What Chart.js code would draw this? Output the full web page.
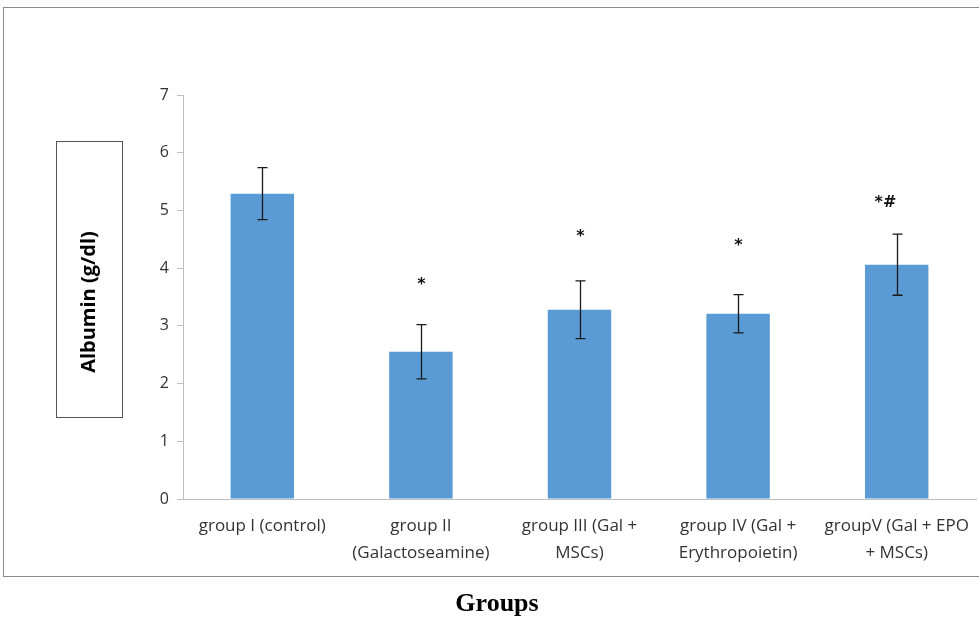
<!DOCTYPE html>
<html><head><meta charset="utf-8">
<script src="https://cdn.jsdelivr.net/npm/chart.js@4/dist/chart.umd.min.js"></script>
<style>html,body{margin:0;padding:0;background:#fff;}#wrap{width:979px;height:620px;position:relative;}</style>
</head><body><div id="wrap"><canvas id="c" width="979" height="620"></canvas></div>
<script>
const categories = [
  ["group I (control)"],
  ["group II", "(Galactoseamine)"],
  ["group III (Gal +", "MSCs)"],
  ["group IV (Gal +", "Erythropoietin)"],
  ["groupV (Gal + EPO", "+ MSCs)"]
];
const albumin = [5.29, 2.55, 3.28, 3.21, 4.06];
const errors = [0.45, 0.47, 0.50, 0.33, 0.53];
const significance = ["", "*", "*", "*", "*#"];
const significanceLevel = [null, 3.71, 4.54, 4.38, 5.13];
const yTicks = [0, 1, 2, 3, 4, 5, 6, 7];

const extras = {
  id: 'extras',
  beforeDraw(chart) {
    const ctx = chart.ctx;
    ctx.save();
    ctx.fillStyle = '#fff';
    ctx.fillRect(0, 0, chart.width, chart.height);
    ctx.strokeStyle = '#8c8c8c';
    ctx.lineWidth = 1;
    ctx.strokeRect(3.5, 7.5, 990, 569);
    ctx.restore();
  },
  afterDatasetsDraw(chart) {
    const ctx = chart.ctx;
    const meta = chart.getDatasetMeta(0);
    const y = chart.scales.y;
    ctx.save();
    ctx.strokeStyle = '#1a1a1a';
    ctx.lineWidth = 1.3;
    meta.data.forEach((bar, i) => {
      const x = Math.round(bar.x) + 0.5;
      const top = y.getPixelForValue(albumin[i] + errors[i]);
      const bot = y.getPixelForValue(albumin[i] - errors[i]);
      ctx.beginPath();
      ctx.moveTo(x, top); ctx.lineTo(x, bot);
      ctx.moveTo(x - 5, top); ctx.lineTo(x + 5, top);
      ctx.moveTo(x - 5, bot); ctx.lineTo(x + 5, bot);
      ctx.stroke();
      if (significance[i]) {
        ctx.fillStyle = '#111';
        ctx.font = 'bold 16px "DejaVu Sans"';
        ctx.textAlign = 'center';
        ctx.textBaseline = 'middle';
        ctx.fillText(significance[i], x - (significance[i].length > 1 ? 12 : 0), y.getPixelForValue(significanceLevel[i]));
      }
    });
    // y-axis title box
    ctx.strokeStyle = '#555';
    ctx.lineWidth = 1;
    ctx.strokeRect(56.5, 141.5, 66, 276);
    ctx.translate(89, 302);
    ctx.rotate(-Math.PI / 2);
    ctx.fillStyle = '#000';
    ctx.font = 'bold 20px "Open Sans"';
    ctx.textAlign = 'center';
    ctx.textBaseline = 'middle';
    ctx.fillText('Albumin (g/dl)', 0, 0);
    ctx.restore();
    // x title
    ctx.save();
    ctx.fillStyle = '#000';
    ctx.font = 'bold 26px "Liberation Serif"';
    ctx.textAlign = 'center';
    ctx.textBaseline = 'middle';
    ctx.fillText('Groups', 497, 604);
    ctx.restore();
  }
};

new Chart(document.getElementById('c'), {
  type: 'bar',
  data: {
    labels: categories,
    datasets: [{
      data: albumin,
      backgroundColor: '#5b9bd5',
      borderWidth: 0,
      barPercentage: 0.4,
      categoryPercentage: 1.0
    }]
  },
  options: {
    responsive: false,
    animation: false,
    devicePixelRatio: 1,
    layout: { padding: { left: 0, right: 3, top: 95, bottom: 0 } },
    plugins: { legend: { display: false }, tooltip: { enabled: false } },
    scales: {
      y: {
        min: 0, max: 7,
        afterFit(s) { s.width = 183; },
        afterBuildTicks(s) { s.ticks = yTicks.map(v => ({ value: v })); },
        ticks: { color: '#333', font: { family: '"Open Sans"', size: 16 }, padding: 8 },
        grid: { drawOnChartArea: false, drawTicks: true, tickLength: 6, color: '#bfbfbf' },
        border: { color: '#bfbfbf', width: 1 }
      },
      x: {
        afterFit(s) { s.height = 121; s.paddingLeft = 0; s.paddingRight = 0; },
        ticks: { color: '#333', font: { family: '"Open Sans"', size: 17, lineHeight: 1.62 }, padding: 13, maxRotation: 0, autoSkip: false },
        grid: { display: false, drawTicks: false },
        border: { color: '#bfbfbf', width: 1 }
      }
    }
  },
  plugins: [extras]
});
</script></body></html>
